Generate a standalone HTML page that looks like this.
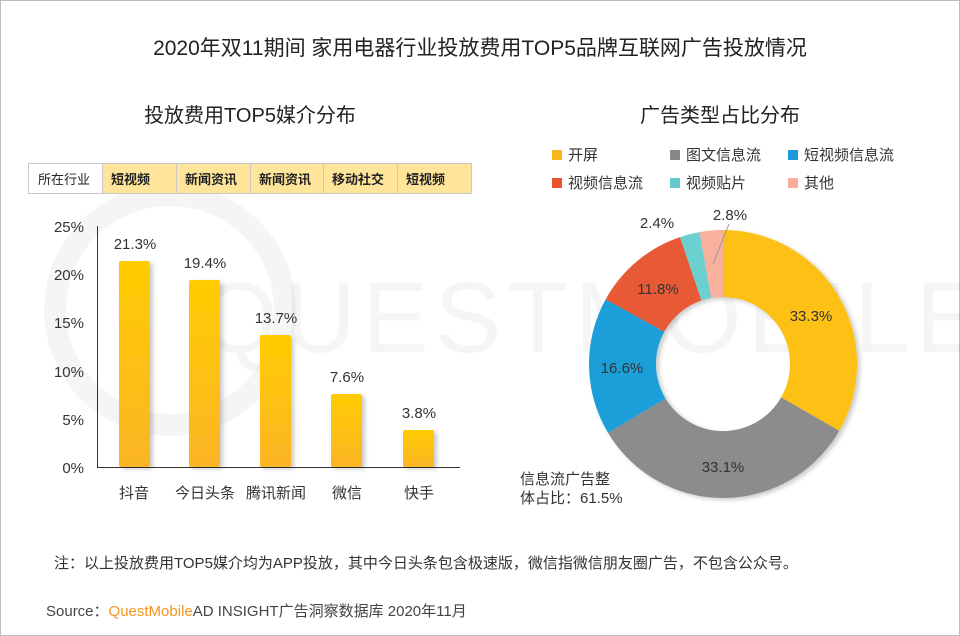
<!DOCTYPE html>
<html><head><meta charset="utf-8"><style>
body{margin:0;background:#fff}
svg{display:block}
text{font-family:"Liberation Sans","Noto Sans CJK SC",sans-serif}
</style></head><body>
<svg width="960" height="636" viewBox="0 0 960 636">
<defs>
<linearGradient id="bar" x1="0" y1="0" x2="0" y2="1"><stop offset="0" stop-color="#ffcc00"/><stop offset="1" stop-color="#fbb526"/></linearGradient>
<filter id="sh"><feDropShadow dx="3" dy="2" stdDeviation="2" flood-color="#000" flood-opacity="0.2"/></filter>
</defs>
<rect x="0.5" y="0.5" width="959" height="635" fill="#fff" stroke="#bdbdbd"/>
<!-- watermark -->
<g opacity="0.04" fill="none" stroke="#000" stroke-width="22">
<circle cx="170" cy="310" r="115"/>
</g>
<text x="200" y="352" font-size="100" fill="#000" opacity="0.035" letter-spacing="6">QUESTMOBILE</text>

<text x="480" y="55" font-size="21" text-anchor="middle" fill="#222">2020年双11期间 家用电器行业投放费用TOP5品牌互联网广告投放情况</text>
<text x="250" y="122" font-size="20" text-anchor="middle" fill="#222">投放费用TOP5媒介分布</text>
<text x="720" y="122" font-size="20" text-anchor="middle" fill="#222">广告类型占比分布</text>

<!-- table -->
<g font-size="13" font-weight="bold" fill="#222" stroke-width="1">
<rect x="28.5" y="163.5" width="74" height="30" fill="#fff" stroke="#c8c8c8"/>
<rect x="102.5" y="163.5" width="74" height="30" fill="#ffe59a" stroke="#c8c8c8"/>
<rect x="176.5" y="163.5" width="74" height="30" fill="#ffe59a" stroke="#c8c8c8"/>
<rect x="250.5" y="163.5" width="73" height="30" fill="#ffe59a" stroke="#c8c8c8"/>
<rect x="323.5" y="163.5" width="74" height="30" fill="#ffe59a" stroke="#c8c8c8"/>
<rect x="397.5" y="163.5" width="74" height="30" fill="#ffe59a" stroke="#c8c8c8"/>
<text x="38" y="184" font-weight="normal">所在行业</text>
<text x="111" y="184">短视频</text>
<text x="185" y="184">新闻资讯</text>
<text x="259" y="184">新闻资讯</text>
<text x="332" y="184">移动社交</text>
<text x="406" y="184">短视频</text>
</g>

<!-- bar axis -->
<g font-size="15" fill="#333" text-anchor="end">
<text x="84" y="232">25%</text><text x="84" y="280">20%</text><text x="84" y="328">15%</text>
<text x="84" y="377">10%</text><text x="84" y="425">5%</text><text x="84" y="473">0%</text>
</g>
<line x1="97.5" y1="226" x2="97.5" y2="467" stroke="#333"/>
<line x1="97" y1="467.5" x2="460" y2="467.5" stroke="#333"/>
<g fill="url(#bar)" filter="url(#sh)">
<rect x="119" y="261" width="31" height="206" rx="2"/>
<rect x="189" y="280" width="31" height="187" rx="2"/>
<rect x="260" y="335" width="31" height="132" rx="2"/>
<rect x="331" y="394" width="31" height="73" rx="2"/>
<rect x="403" y="430" width="31" height="37" rx="2"/>
</g>
<g font-size="15" fill="#333" text-anchor="middle">
<text x="135" y="249">21.3%</text><text x="205" y="268">19.4%</text><text x="276" y="323">13.7%</text>
<text x="347" y="382">7.6%</text><text x="419" y="418">3.8%</text>
<text x="134" y="498">抖音</text><text x="205" y="498">今日头条</text><text x="276" y="498">腾讯新闻</text>
<text x="347" y="498">微信</text><text x="419" y="498">快手</text>
</g>

<!-- legend -->
<g font-size="15" fill="#333">
<rect x="552" y="150" width="10" height="10" fill="#fbb81c"/><text x="568" y="160">开屏</text>
<rect x="670" y="150" width="10" height="10" fill="#888"/><text x="686" y="160">图文信息流</text>
<rect x="788" y="150" width="10" height="10" fill="#1a9ad6"/><text x="804" y="160">短视频信息流</text>
<rect x="552" y="178" width="10" height="10" fill="#e8552f"/><text x="568" y="188">视频信息流</text>
<rect x="670" y="178" width="10" height="10" fill="#63cbcc"/><text x="686" y="188">视频贴片</text>
<rect x="788" y="178" width="10" height="10" fill="#f9ad98"/><text x="804" y="188">其他</text>
</g>

<!-- donut -->
<g filter="url(#sh)">
<path d="M723 230 A134 134 0 0 1 839.2 430.8 L781.1 397.4 A67 67 0 0 0 723 297 Z" fill="#fdc115"/>
<path d="M839.2 430.8 A134 134 0 0 1 608.1 432.9 L665.5 398.5 A67 67 0 0 0 781.1 397.4 Z" fill="#8c8c8c"/>
<path d="M608.1 432.9 A134 134 0 0 1 605.6 299.4 L664.3 331.7 A67 67 0 0 0 665.5 398.5 Z" fill="#1c9fd8"/>
<path d="M605.6 299.4 A134 134 0 0 1 680 237.1 L701.5 300.5 A67 67 0 0 0 664.3 331.7 Z" fill="#e85a35"/>
<path d="M680 237.1 A134 134 0 0 1 699.5 232.1 L711.3 298 A67 67 0 0 0 701.5 300.5 Z" fill="#6ccfd0"/>
<path d="M699.5 232.1 A134 134 0 0 1 723 230 L723 297 A67 67 0 0 0 711.3 298 Z" fill="#f9b09c"/>
</g>
<line x1="713" y1="264" x2="729" y2="224" stroke="#999"/>
<g font-size="15" fill="#333" text-anchor="middle">
<text x="811" y="321">33.3%</text>
<text x="723" y="472">33.1%</text>
<text x="622" y="373">16.6%</text>
<text x="658" y="294">11.8%</text>
<text x="657" y="228">2.4%</text>
<text x="730" y="220">2.8%</text>
</g>
<g font-size="15" fill="#333">
<text x="520" y="484">信息流广告整</text>
<text x="520" y="503">体占比：61.5%</text>
</g>

<text x="54" y="568" font-size="15" fill="#333">注：以上投放费用TOP5媒介均为APP投放，其中今日头条包含极速版，微信指微信朋友圈广告，不包含公众号。</text>
<text x="46" y="616" font-size="15" fill="#444">Source：<tspan fill="#f7941d">QuestMobile</tspan>AD INSIGHT广告洞察数据库 2020年11月</text>
</svg>
</body></html>
